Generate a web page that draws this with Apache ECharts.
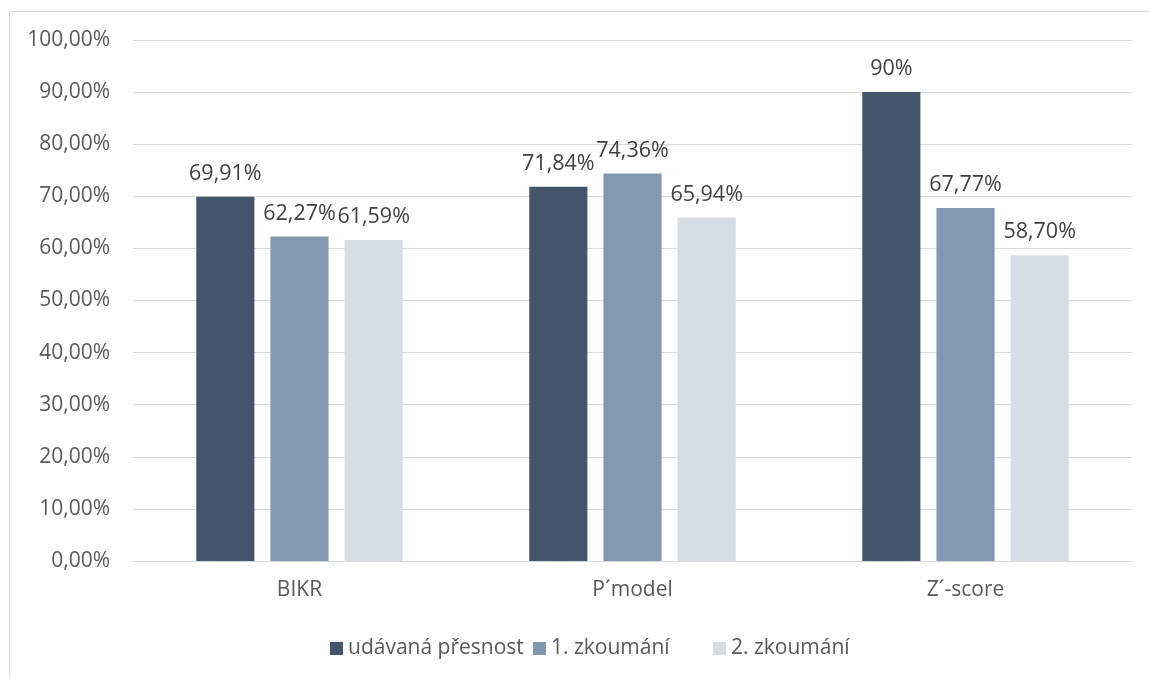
<!DOCTYPE html>
<html>
<head>
<meta charset="utf-8">
<script src="https://cdn.jsdelivr.net/npm/echarts@6/dist/echarts.min.js"></script>
<style>
  html, body { margin: 0; padding: 0; background: #ffffff; }
  #chart { width: 1149px; height: 677px; }
</style>
</head>
<body>
<div id="chart"></div>
<script>
// Accuracy of bankruptcy models (in %)
const categories = ['BIKR', 'P\u00b4model', 'Z\u00b4-score'];
const seriesNames = ['udávaná přesnost', '1. zkoumání', '2. zkoumání'];
const udavanaPresnost = [69.91, 71.84, 90];
const zkoumani1 = [62.27, 74.36, 67.77];
const zkoumani2 = [61.59, 65.94, 58.70];

const colors = ['#44546A', '#8497B0', '#D6DCE4'];
const FONT = '"Open Sans", "Noto Sans", sans-serif';

function fmtAxis(v) {
  return v.toFixed(2).replace('.', ',') + '%';
}
function fmtLabel(v) {
  return Number.isInteger(v) ? v + '%' : v.toFixed(2).replace('.', ',') + '%';
}

function makeSeries(name, data, color) {
  return {
    name: name,
    type: 'bar',
    data: data,
    barGap: '27.6%',
    barCategoryGap: '38%',
    itemStyle: { color: color },
    label: {
      show: true,
      position: 'top',
      distance: 12,
      color: '#404040',
      fontFamily: FONT,
      fontSize: 21.5,
      formatter: p => fmtLabel(p.value)
    }
  };
}

// one legend block per series so each entry sits at its own spot
const legendLefts = [325, 528, 708];
const legends = seriesNames.map((n, i) => ({
  left: legendLefts[i],
  top: 633,
  icon: 'rect',
  itemWidth: 13,
  itemHeight: 13,
  textStyle: { color: '#595959', fontSize: 21, fontFamily: FONT },
  data: [n]
}));

const chart = echarts.init(document.getElementById('chart'), null, { renderer: 'canvas' });
chart.setOption({
  animation: false,
  backgroundColor: '#ffffff',
  textStyle: { fontFamily: FONT },
  grid: { left: 133, right: 17, top: 40, bottom: 116, containLabel: false },
  graphic: [{
    type: 'rect',
    shape: { x: 9.5, y: 11.5, width: 1200, height: 720 },
    style: { fill: 'none', stroke: '#D9D9D9', lineWidth: 1 },
    silent: true,
    z: -1
  }],
  legend: legends,
  xAxis: {
    type: 'category',
    data: categories,
    axisLine: { show: true, lineStyle: { color: '#D9D9D9', width: 1 } },
    axisTick: { show: false },
    axisLabel: { color: '#595959', fontSize: 21, fontFamily: FONT, margin: 19 }
  },
  yAxis: {
    type: 'value',
    min: 0,
    max: 100,
    interval: 10,
    axisLine: { show: false },
    axisTick: { show: false },
    splitLine: { lineStyle: { color: '#D9D9D9', width: 1 } },
    axisLabel: { color: '#595959', fontSize: 21, fontFamily: FONT, margin: 23, formatter: fmtAxis }
  },
  series: [
    makeSeries(seriesNames[0], udavanaPresnost, colors[0]),
    makeSeries(seriesNames[1], zkoumani1, colors[1]),
    makeSeries(seriesNames[2], zkoumani2, colors[2])
  ]
});
</script>
</body>
</html>
